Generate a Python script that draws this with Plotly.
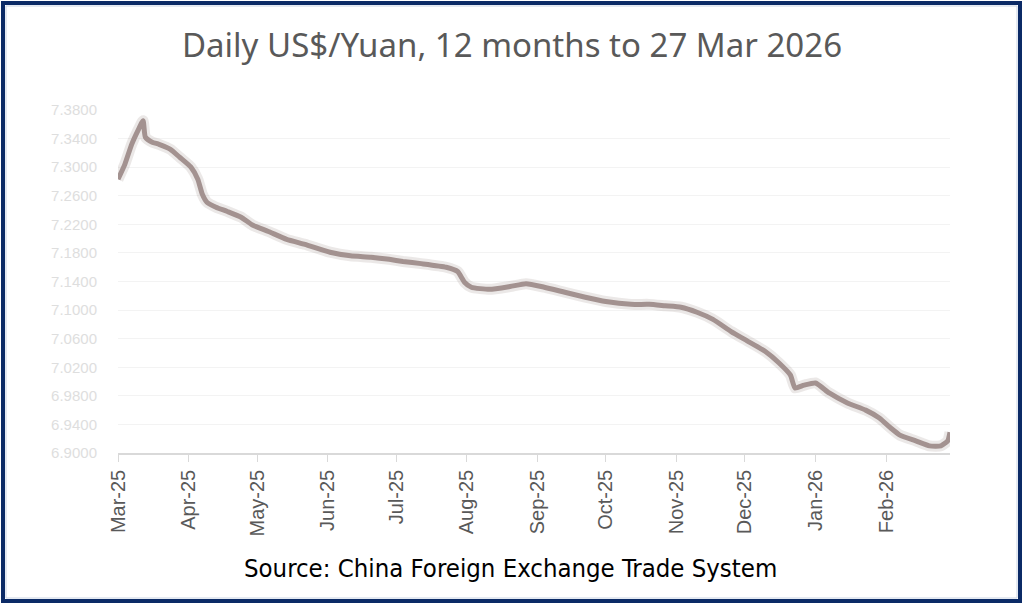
import plotly.graph_objects as go

# daily US$/Yuan (approximate)
dates = [
    "2025-03-27", "2025-03-30", "2025-04-02", "2025-04-05", "2025-04-07",
    "2025-04-08", "2025-04-11", "2025-04-14", "2025-04-19", "2025-04-23",
    "2025-04-28", "2025-05-01", "2025-05-03", "2025-05-05", "2025-05-09",
    "2025-05-14", "2025-05-20", "2025-05-25", "2025-06-01", "2025-06-09",
    "2025-06-17", "2025-06-28", "2025-07-07", "2025-07-16", "2025-07-24",
    "2025-07-30", "2025-08-07", "2025-08-18", "2025-08-23", "2025-08-26",
    "2025-08-29", "2025-09-06", "2025-09-15", "2025-09-22", "2025-09-30",
    "2025-10-09", "2025-10-18", "2025-10-27", "2025-11-07", "2025-11-15",
    "2025-11-22", "2025-11-29", "2025-12-06", "2025-12-13", "2025-12-21",
    "2025-12-28", "2026-01-05", "2026-01-11", "2026-01-16", "2026-01-18",
    "2026-01-22", "2026-01-27", "2026-02-02", "2026-02-10", "2026-02-18",
    "2026-02-24", "2026-03-01", "2026-03-05", "2026-03-12", "2026-03-18",
    "2026-03-23", "2026-03-26", "2026-03-27",
]
rate = [
    7.283, 7.304, 7.332, 7.353, 7.365,
    7.342, 7.335, 7.332, 7.325, 7.314,
    7.300, 7.283, 7.262, 7.251, 7.244,
    7.238, 7.230, 7.219, 7.210, 7.199,
    7.192, 7.181, 7.176, 7.174, 7.171,
    7.168, 7.165, 7.160, 7.154, 7.139,
    7.132, 7.129, 7.133, 7.137, 7.132,
    7.125, 7.118, 7.112, 7.108, 7.108,
    7.106, 7.104, 7.097, 7.087, 7.070,
    7.057, 7.042, 7.026, 7.009, 6.991,
    6.995, 6.998, 6.984, 6.970, 6.960,
    6.949, 6.935, 6.925, 6.917, 6.910,
    6.910, 6.917, 6.929,
]

tick_dates = ["2025-03-27", "2025-04-27", "2025-05-27", "2025-06-27", "2025-07-27",
              "2025-08-27", "2025-09-27", "2025-10-27", "2025-11-27", "2025-12-27",
              "2026-01-27", "2026-02-27"]
tick_labels = ["Mar-25", "Apr-25", "May-25", "Jun-25", "Jul-25", "Aug-25",
               "Sep-25", "Oct-25", "Nov-25", "Dec-25", "Jan-26", "Feb-26"]
y_ticks = [6.90, 6.94, 6.98, 7.02, 7.06, 7.10, 7.14, 7.18, 7.22, 7.26, 7.30, 7.34, 7.38]

W, H = 1024, 604
L, R, T, B = 118, 74, 110, 151
pw, ph = W - L - R, H - T - B


def px(x):
    return (x - L) / pw


def py(y):
    return (H - B - y) / ph


fig = go.Figure()
# soft halo under the line, the original is a bit blurred
fig.add_trace(go.Scatter(
    x=dates, y=rate, mode="lines",
    line=dict(color="rgba(166,149,145,0.22)", width=11, shape="spline", smoothing=0.5),
    hoverinfo="skip", showlegend=False,
))
fig.add_trace(go.Scatter(
    x=dates, y=rate, mode="lines",
    line=dict(color="#a39290", width=5, shape="spline", smoothing=0.5),
    hoverinfo="x+y", showlegend=False,
))

fig.update_layout(
    width=W, height=H,
    margin=dict(l=L, r=R, t=T, b=B),
    paper_bgcolor="white", plot_bgcolor="white",
    title=dict(text="Daily US$/Yuan, 12 months to 27 Mar 2026",
               x=0.5, xanchor="center", y=1 - 45 / H, yanchor="middle",
               font=dict(family="Noto Sans", size=33, color="#595959")),
    xaxis=dict(
        type="date", range=["2025-03-27", "2026-03-27"], automargin=False,
        tickvals=tick_dates, ticktext=tick_labels, tickangle=-90,
        tickfont=dict(family="Liberation Sans", size=20, color="#595959"),
        showgrid=False, showline=True, linecolor="#d9d9d9", linewidth=1.5,
        ticks="outside", ticklen=7, tickcolor="#d9d9d9", zeroline=False,
    ),
    yaxis=dict(
        range=[6.90, 7.38], tickvals=y_ticks, tickformat=".4f", automargin=False,
        tickfont=dict(family="Liberation Sans", size=15, color="#dedede"),
        showgrid=True, gridcolor="#f3f3f3", gridwidth=1,
        showline=False, zeroline=False, ticks="", ticklabelstandoff=20,
    ),
    annotations=[dict(
        text="Source: China Foreign Exchange Trade System",
        xref="paper", yref="paper", x=px(510), y=py(568),
        xanchor="center", yanchor="middle", showarrow=False,
        font=dict(family="DejaVu Sans Condensed, Liberation Sans", size=25.5, color="black"),
    )],
    shapes=[
        dict(type="rect", xref="paper", yref="paper",
             x0=px(3), x1=px(1020), y0=py(601), y1=py(3),
             line=dict(color="#0b2a66", width=4), fillcolor="rgba(0,0,0,0)", layer="above"),
        dict(type="rect", xref="paper", yref="paper",
             x0=px(6), x1=px(1017), y0=py(598), y1=py(6),
             line=dict(color="#c9d3e3", width=1), fillcolor="rgba(0,0,0,0)", layer="above"),
    ],
)

# page body has an 8px default margin; drop it so the frame sits at the window edge
fig.write_html("out.html", config={"displayModeBar": False},
               post_script="document.body.style.margin='0';")
